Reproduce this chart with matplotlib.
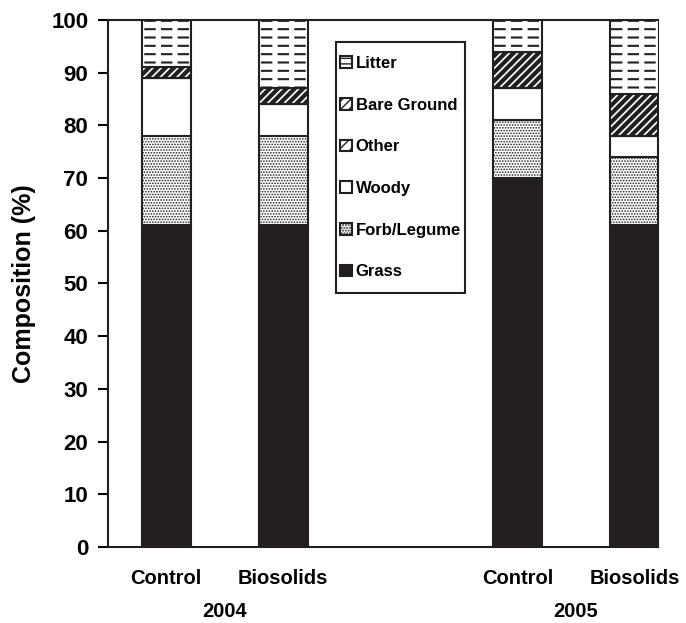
import matplotlib.pyplot as plt
from matplotlib.patches import Rectangle
import numpy as np

plt.rcParams['font.family'] = ['Liberation Sans', 'DejaVu Sans']
plt.rcParams['font.weight'] = 'bold'
plt.rcParams['hatch.linewidth'] = 1.0

# data (percent composition)
groups = ['Control', 'Biosolids', 'Control', 'Biosolids']
years = ['2004', '2005']
xpos = [0, 1, 3, 4]
grass = [61, 61, 70, 61]
forb = [17, 17, 11, 13]
woody = [11, 6, 6, 4]
other = [0, 0, 0, 0]
bare = [2, 3, 7, 8]
litter = [9, 13, 6, 14]

# name, values, fill, hatch, hatch linewidth
layers = [
    ('Grass', grass, '#231f20', None, 1.0),
    ('Forb/Legume', forb, 'white', '......', 0.8),
    ('Woody', woody, 'white', None, 1.0),
    ('Other', other, 'white', '///', 1.0),
    ('Bare Ground', bare, 'white', '////', 3.0),
    ('Litter', litter, 'white', '--', 1.5),
]
ink = '#231f20'
W = 0.42

fig = plt.figure(figsize=(6.86, 6.23), dpi=100)
ax = fig.add_axes([0.157, 0.122, 0.802, 0.846])

bottom = np.zeros(len(xpos))
handles = []
for name, vals, col, hatch, hlw in layers:
    vals = np.array(vals, dtype=float)
    with plt.rc_context({'hatch.linewidth': hlw}):
        b = ax.bar(xpos, vals, width=W, bottom=bottom, color=col,
                   edgecolor=ink, linewidth=1.5, hatch=hatch, label=name,
                   zorder=2)
    if name == 'Litter':
        # cut the litter lines into dashes
        for p in b:
            p.set_linewidth(0)
        with plt.rc_context({'hatch.linewidth': 3.8}):
            ax.bar(xpos, vals, width=W, bottom=bottom, color='none',
                   edgecolor='white', linewidth=0, hatch='|', zorder=3)
        ax.bar(xpos, vals, width=W, bottom=bottom, color='none',
               edgecolor=ink, linewidth=1.5, zorder=4)
        with plt.rc_context({'hatch.linewidth': hlw}):
            h = ax.bar([np.nan], [np.nan], color=col, edgecolor=ink,
                       linewidth=1.5, hatch='---')
        handles.append(h)
    else:
        handles.append(b)
    bottom += vals

ax.set_ylim(0, 100)
ax.set_xlim(-0.5, 4.2)
ax.set_yticks(range(0, 101, 10))
ax.set_xticks(xpos)
ax.set_xticklabels(groups, fontsize=14.5, fontweight='bold')
ax.tick_params(axis='x', length=0, pad=16)
ax.tick_params(axis='y', direction='out', length=7, width=1.5,
               labelsize=16, pad=7)
for s in ax.spines.values():
    s.set_linewidth(1.5)
    s.set_color(ink)
ax.set_ylabel('Composition (%)', fontsize=18, fontweight='bold')
ax.yaxis.set_label_coords(-0.13, 0.5)

for i, yr in enumerate(years):
    ax.text((xpos[2 * i] + xpos[2 * i + 1]) / 2, -0.122, yr,
            transform=ax.get_xaxis_transform(), ha='center', va='center',
            fontsize=14.5, fontweight='bold')

# legend box
ax.add_patch(Rectangle((0.415, 0.482), 0.234, 0.476, transform=ax.transAxes,
                       facecolor='white', edgecolor=ink, linewidth=1.5,
                       zorder=5))
leg = ax.legend(handles[::-1], [l[0] for l in layers][::-1],
                loc='center', bbox_to_anchor=(0.532, 0.72),
                fontsize=12, frameon=False,
                labelspacing=1.6, handlelength=0.7, handleheight=0.7,
                handletextpad=0.25, borderpad=0, borderaxespad=0)
leg.set_zorder(6)

fig.savefig('out.png', dpi=100)
